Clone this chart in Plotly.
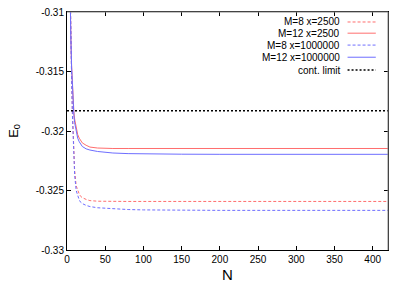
import plotly.graph_objects as go

N = [2, 3, 4, 5, 6, 7, 8, 9, 10, 12, 14, 16, 18, 20, 25, 30, 40, 50, 60, 80, 100, 150, 200, 300, 420]

m12_x2500 = [-0.300, -0.305, -0.3094, -0.3120, -0.3145, -0.3163, -0.3176, -0.3184, -0.3190, -0.3198,
             -0.3203, -0.3206, -0.3208, -0.3210, -0.3212, -0.32135, -0.32143, -0.32146, -0.32147,
             -0.32147, -0.32147, -0.32147, -0.32147, -0.32147, -0.32147]
m12_x1e6 = [-0.300, -0.305, -0.3094, -0.3121, -0.3146, -0.3165, -0.3178, -0.3187, -0.3193, -0.3201,
            -0.3206, -0.3209, -0.3211, -0.3213, -0.3215, -0.3216, -0.32172, -0.32180, -0.32185,
            -0.32190, -0.32193, -0.32195, -0.32196, -0.32196, -0.32196]
m8_x2500 = [-0.299, -0.3040, -0.3080, -0.3118, -0.3153, -0.3182, -0.3205, -0.3222, -0.3233, -0.3246,
            -0.3250, -0.3253, -0.3255, -0.3256, -0.32575, -0.32585, -0.3259, -0.32592, -0.32592,
            -0.32592, -0.32592, -0.32592, -0.32592, -0.32592, -0.32592]
m8_x1e6 = [-0.299, -0.3040, -0.3081, -0.3120, -0.3155, -0.3185, -0.3209, -0.3226, -0.3237, -0.3250,
           -0.3255, -0.3258, -0.3260, -0.3261, -0.32625, -0.32635, -0.32645, -0.3265, -0.32655,
           -0.3266, -0.32663, -0.32666, -0.32667, -0.32667, -0.32667]
cont_N = [0, 420]
cont_limit = [-0.31829, -0.31829]

x_ticks = [0, 50, 100, 150, 200, 250, 300, 350, 400]
y_ticks = [-0.33, -0.325, -0.32, -0.315, -0.31]
y_ticktext = ["-0.33", "-0.325", "-0.32", "-0.315", "-0.31"]

legend_labels = ["M=8 x=2500", "M=12 x=2500", "M=8 x=1000000", "M=12 x=1000000", "cont. limit"]

RED = "rgb(255,110,110)"
BLUE = "rgb(110,110,255)"
styles = [
    dict(color=RED, width=1, dash="3px,2px"),
    dict(color=RED, width=1, dash="solid"),
    dict(color=BLUE, width=1, dash="3px,2px"),
    dict(color=BLUE, width=1, dash="solid"),
    dict(color="black", width=1.5, dash="2px,2px"),
]

series = [(N, m8_x2500), (N, m12_x2500), (N, m8_x1e6), (N, m12_x1e6), (cont_N, cont_limit)]

fig = go.Figure()
for (xs, ys), st, name in zip(series, styles, legend_labels):
    fig.add_trace(go.Scatter(x=xs, y=ys, mode="lines", line=st, name=name, showlegend=False))

FONT = "Liberation Sans"
legend_y = [0.958, 0.911, 0.861, 0.810, 0.756]
shapes = []
annotations = []
for name, st, yy in zip(legend_labels, styles, legend_y):
    annotations.append(dict(x=0.856, y=yy, xref="paper", yref="paper", text=name, showarrow=False,
                            xanchor="right", yanchor="middle", font=dict(family=FONT, size=10, color="black")))
    shapes.append(dict(type="line", xref="paper", yref="paper", x0=0.874, x1=0.962, y0=yy, y1=yy,
                       line=st))
# gray top/right border
shapes.append(dict(type="line", xref="paper", yref="paper", x0=0, x1=1, y0=1, y1=1,
                   line=dict(color="#888", width=1)))
shapes.append(dict(type="line", xref="paper", yref="paper", x0=1, x1=1, y0=0, y1=1,
                   line=dict(color="#888", width=1)))

fig.update_layout(
    width=403, height=283,
    margin=dict(l=67, r=15, t=12, b=33),
    paper_bgcolor="white", plot_bgcolor="white",
    font=dict(family=FONT, size=10, color="black"),
    shapes=shapes, annotations=annotations,
    hovermode=False,
    xaxis=dict(range=[0, 420], tickvals=x_ticks, ticks="inside", ticklen=4, tickcolor="black",
               tickfont=dict(family=FONT, size=10, color="black"), automargin=False,
               showline=True, linecolor="black", linewidth=1, mirror="allticks", showgrid=False,
               zeroline=False, title=dict(text="N", font=dict(family=FONT, size=15), standoff=5)),
    yaxis=dict(range=[-0.33, -0.31], tickvals=y_ticks, ticktext=y_ticktext, ticks="inside", ticklen=4,
               tickfont=dict(family=FONT, size=10, color="black"), automargin=False,
               tickcolor="black", showline=True, linecolor="black", linewidth=1, mirror="allticks",
               showgrid=False, zeroline=False,
               title=dict(text="E<sub>0</sub>", font=dict(family=FONT, size=13), standoff=14)),
)

fig.write_html("out.html", config={"displayModeBar": False},
               post_script="document.body.style.margin='0';")
